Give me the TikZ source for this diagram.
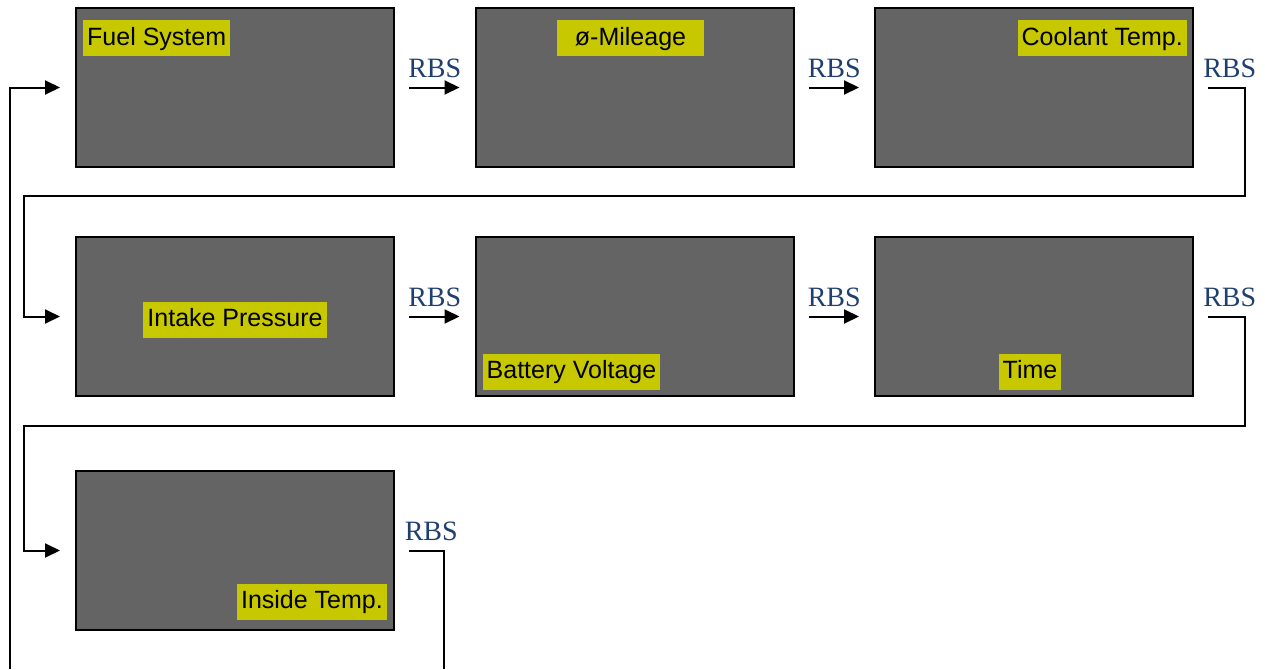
\documentclass[tikz,border=0pt]{standalone}
\usepackage{xcolor}
\usepackage{fontspec}
\setmainfont{Liberation Serif}
\newfontfamily\panelfont{Liberation Sans}
\usepackage{tikz}
\usetikzlibrary{arrows.meta,positioning,calc}

\definecolor{panelgray}{HTML}{646464}
\definecolor{tagyellow}{HTML}{C8C800}
\definecolor{rbsblue}{HTML}{1F3F6F}

\tikzset{
  screen/.style={draw=black, line width=2pt, fill=panelgray, minimum width=318pt, minimum height=159pt, inner sep=0pt},
  tag/.style={fill=tagyellow, text=black, font=\panelfont\fontsize{25}{30}\selectfont, inner xsep=4pt, inner ysep=5pt, text height=20pt, text depth=6pt},
  rbs/.style={text=rbsblue, font=\fontsize{28}{32}\selectfont, inner sep=2pt, above=7pt},
  flow/.style={line width=2pt, -{Triangle[length=15pt,width=14pt]}, shorten <=14pt, shorten >=15pt},
  loop/.style={line width=2pt, shorten <=14pt}
}

\begin{document}
\begin{tikzpicture}[x=1pt, y=-1pt]
\useasboundingbox (0,0) rectangle (1265,669);

% Screens, first row
\node[screen] (fuel) at (235,87.5) {};
\node[screen] (mileage) at (634.5,87.5) {};
\node[screen] (coolant) at (1034,87.5) {};

% Screens, second row
\node[screen] (intake) at (235,316.5) {};
\node[screen] (battery) at (634.5,316.5) {};
\node[screen] (clock) at (1034,316.5) {};

% Screen, third row
\node[screen] (inside) at (235,550.5) {};

% Screen titles
\node[tag, below right=13pt and 8pt of fuel.north west, anchor=north west] (fueltag) {Fuel System};
\node[tag, below=13pt of mileage.north, anchor=north, xshift=-4pt, minimum width=147pt] (mileagetag) {ø-Mileage};
\node[tag, below left=13pt and 7pt of coolant.north east, anchor=north east] (coolanttag) {Coolant Temp.};
\node[tag, yshift=-3pt] (intaketag) at (intake.center) {Intake Pressure};
\node[tag, above right=7pt and 8pt of battery.south west, anchor=south west] (batterytag) {Battery Voltage};
\node[tag, above=7pt of clock.south, anchor=south, xshift=-4pt] (clocktag) {Time};
\node[tag, above left=11pt and 8pt of inside.south east, anchor=south east] (insidetag) {Inside Temp.};

% Turning points of the wrap-around lines
\coordinate (turnA) at (1245,196);
\coordinate (backA) at (24,196);
\coordinate (turnB) at (1245,426);
\coordinate (backB) at (24,426);
\coordinate (exitC) at (444,669);
\coordinate (entryC) at (10,669);

% RBS steps along a row
\draw[flow] (fuel.east) -- node[rbs] (rbs1) {RBS} (mileage.west);
\draw[flow] (mileage.east) -- node[rbs] (rbs2) {RBS} (coolant.west);
\draw[flow] (intake.east) -- node[rbs] (rbs4) {RBS} (battery.west);
\draw[flow] (battery.east) -- node[rbs] (rbs5) {RBS} (clock.west);

% RBS steps to the next row
\draw[flow] (coolant.east) -| node[rbs, pos=0.35] (rbs3) {RBS} (turnA) -- (backA) |- (intake.west);
\draw[flow] (clock.east) -| node[rbs, pos=0.35] (rbs6) {RBS} (turnB) -- (backB) |- (inside.west);

% Back to the start
\draw[loop] (inside.east) -| node[rbs, pos=0.37] (rbs7) {RBS} (exitC);
\draw[flow, shorten <=0pt] (entryC) |- (fuel.west);
\end{tikzpicture}
\end{document}
